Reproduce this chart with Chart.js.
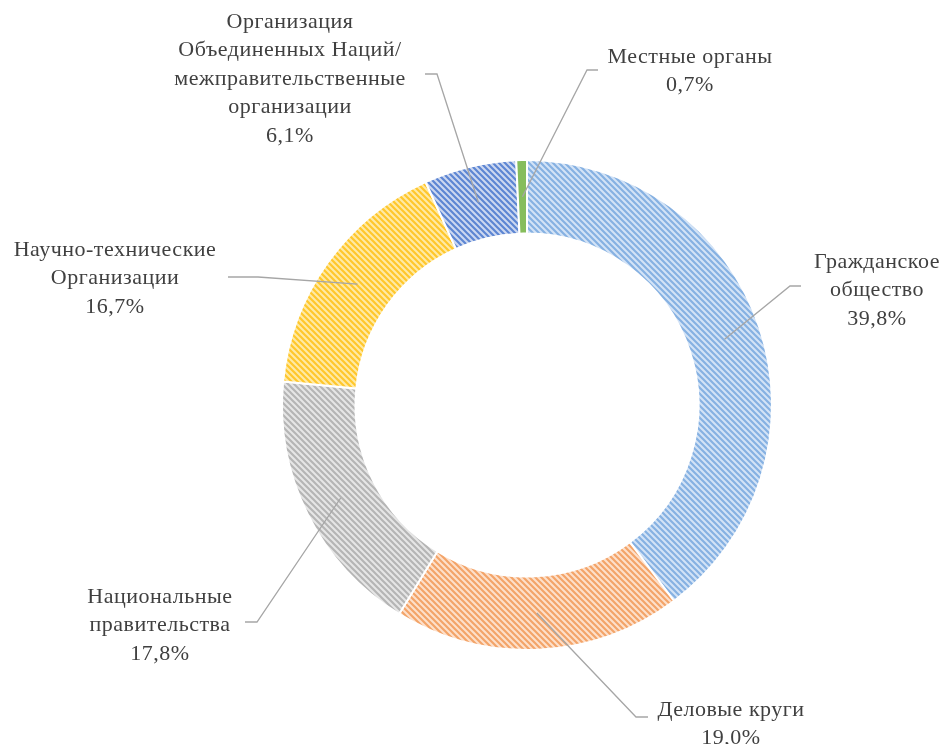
<!DOCTYPE html>
<html>
<head>
<meta charset="utf-8">
<script src="https://cdn.jsdelivr.net/npm/chart.js@4.4.0/dist/chart.umd.min.js"></script>
<style>
  html, body { margin: 0; padding: 0; background: #fff; }
  #wrap { width: 945px; height: 744px; }
</style>
</head>
<body>
<div id="wrap"><canvas id="mycanvas" width="945" height="744"></canvas></div>
<script>
// data, clockwise from 12 o'clock
var categories = [
    'Гражданское\nобщество',
    'Деловые круги',
    'Национальные\nправительства',
    'Научно-технические\nОрганизации',
    'Организация\nОбъединенных Наций/\nмежправительственные\nорганизации',
    'Местные органы'
];
var shares = [39.8, 19.0, 17.8, 16.7, 6.1, 0.7];

// where each label sits: text centre, first line y, elbow of the leader, end of leader
var labelPos = [
    { x: 877, y: 262, ex: 790, ey: 286, hx: 801 },
    { x: 731, y: 710, ex: 636, ey: 717, hx: 648 },
    { x: 160, y: 597, ex: 257, ey: 622, hx: 245 },
    { x: 115, y: 250, ex: 258, ey: 277, hx: 228 },
    { x: 290, y: 22,  ex: 437, ey: 74,  hx: 425 },
    { x: 690, y: 57,  ex: 587, ey: 70,  hx: 598 }
];

function hatch(bg, fg) {
    var s = 6;
    var c = document.createElement('canvas');
    c.width = s; c.height = s;
    var x = c.getContext('2d');
    x.fillStyle = bg;
    x.fillRect(0, 0, s, s);
    x.strokeStyle = fg;
    x.lineWidth = 2.2;
    x.beginPath();
    x.moveTo(-1, -1); x.lineTo(s + 1, s + 1);
    x.moveTo(-1, s - 1); x.lineTo(1, s + 1);
    x.moveTo(s - 1, -1); x.lineTo(s + 1, 1);
    x.stroke();
    return x.createPattern(c, 'repeat');
}

var fills = [
    hatch('#d3e3f6', '#86b1e2'),
    hatch('#fde0cb', '#f3a469'),
    hatch('#e6e6e6', '#b5b5b5'),
    hatch('#ffeaa6', '#ffc72c'),
    hatch('#cdd8f0', '#5d86d3'),
    '#86bd5c'
];

var labelPlugin = {
    id: 'leaderLabels',
    afterDraw: function(chart) {
        var ctx = chart.ctx;
        var meta = chart.getDatasetMeta(0);
        ctx.save();
        meta.data.forEach(function(arc, i) {
            var p = arc.tooltipPosition();
            var L = labelPos[i];
            ctx.strokeStyle = '#a6a6a6';
            ctx.lineWidth = 1.3;
            ctx.beginPath();
            ctx.moveTo(p.x, p.y);
            ctx.lineTo(L.ex, L.ey);
            ctx.lineTo(L.hx, L.ey);
            ctx.stroke();

            var lines = categories[i].split('\n');
            lines.push(shares[i].toFixed(1).replace('.', ',') + '%');
            ctx.fillStyle = '#404040';
            ctx.font = '22px "Liberation Serif", "Times New Roman", serif';
            ctx.letterSpacing = '0.5px';
            ctx.textAlign = 'center';
            ctx.textBaseline = 'middle';
            lines.forEach(function(t, k) {
                ctx.fillText(t, L.x, L.y + k * 28.5);
            });
        });
        ctx.restore();
    }
};

var ctx = document.getElementById('mycanvas');
var myChart = new Chart(ctx, {
    type: 'doughnut',
    data: {
        labels: categories,
        datasets: [{
            data: shares,
            backgroundColor: fills,
            borderColor: '#ffffff',
            borderWidth: 2
        }]
    },
    options: {
        responsive: false,
        animation: false,
        cutout: '70%',
        layout: { padding: { left: 281, right: 172, top: 159, bottom: 93 } },
        plugins: {
            legend: { display: false },
            tooltip: { enabled: false }
        }
    },
    plugins: [labelPlugin]
});
</script>
</body>
</html>
